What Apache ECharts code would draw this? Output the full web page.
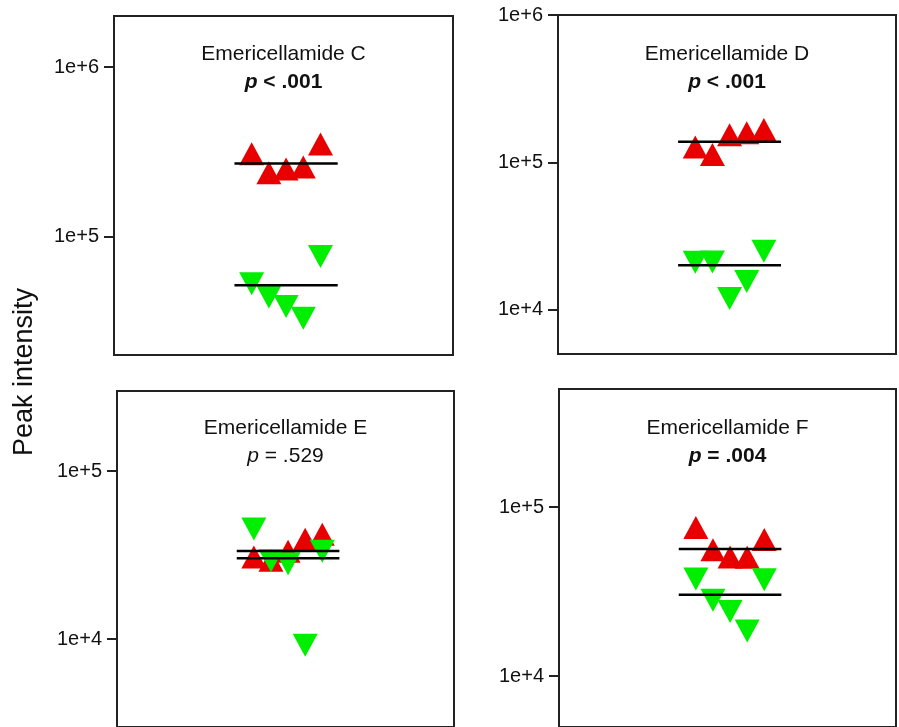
<!doctype html>
<html>
<head>
<meta charset="utf-8">
<style>
  html, body { margin: 0; padding: 0; background: #fff; }
  #main { width: 899px; height: 727px; }
</style>
</head>
<body>
<div id="main"></div>
<script src="https://cdn.jsdelivr.net/npm/echarts@6/dist/echarts.min.js"></script>
<script>
var panelNames = ['Emericellamide C', 'Emericellamide D', 'Emericellamide E', 'Emericellamide F'];
var pTexts = ['< .001', '< .001', '= .529', '= .004'];
var pBold = [true, true, false, true];

// five samples per group, drawn at these x slots
var slots = [1, 2, 3, 4, 5];
var redC = [3.08e5, 2.38e5, 2.50e5, 2.57e5, 3.52e5];
var greenC = [5.27e4, 4.40e4, 3.87e4, 3.30e4, 7.62e4];
var redD = [1.27e5, 1.13e5, 1.54e5, 1.59e5, 1.67e5];
var greenD = [2.10e4, 2.11e4, 1.19e4, 1.55e4, 2.49e4];
var redE = [3.08e4, 2.95e4, 3.34e4, 3.93e4, 4.21e4];
var greenE = [4.53e4, 2.93e4, 2.81e4, 9.2e3, 3.34e4];
var redF = [7.57e4, 5.60e4, 5.07e4, 5.05e4, 6.44e4];
var greenF = [3.75e4, 2.81e4, 2.41e4, 1.85e4, 3.72e4];

// horizontal summary lines
var redLine = [2.70e5, 1.38e5, 3.35e4, 5.65e4];
var greenLine = [5.16e4, 2.0e4, 3.03e4, 3.03e4];

var yMin = [2e4, 5e3, 3e3, 5e3];
var yMax = [2e6, 1e6, 3e5, 5e5];
var tickValues = [1e4, 1e5, 1e6];

var reds = [redC, redD, redE, redF];
var greens = [greenC, greenD, greenE, greenF];

var font = 'Liberation Sans, Arial, sans-serif';
var RED = '#e80000';
var GREEN = '#00ee00';

var gridPos = [
    { left: 114, top: 16, width: 339, height: 339 },
    { left: 558, top: 15, width: 338, height: 339 },
    { left: 117, top: 391, width: 337, height: 340 },
    { left: 559, top: 389, width: 337, height: 352 }
];
var titleTop = [40, 40, 414, 414];

var chart = echarts.init(document.getElementById('main'));

var grids = [], xAxes = [], yAxes = [], titles = [], series = [];
for (var i = 0; i < 4; i++) {
    var g = gridPos[i];
    grids.push({
        left: g.left, top: g.top, width: g.width, height: g.height,
        show: true, borderColor: '#222', borderWidth: 2, containLabel: false
    });
    xAxes.push({ type: 'value', gridIndex: i, min: -7, max: 12.7, show: false });
    var ticks = tickValues.filter(function (v) { return v >= yMin[i] && v <= yMax[i]; });
    yAxes.push({
        type: 'log', logBase: 10, gridIndex: i, min: yMin[i], max: yMax[i],
        axisLine: { show: true, onZero: false, lineStyle: { color: '#222', width: 2 } },
        axisTick: { show: true, length: 10, customValues: ticks, lineStyle: { color: '#222', width: 2 } },
        axisLabel: {
            customValues: ticks, margin: 15, fontSize: 20, color: '#111', fontFamily: font,
            formatter: function (v) { return '1e+' + Math.round(Math.log10(v)); }
        },
        splitLine: { show: false }
    });
    var w = pBold[i] ? 'bold' : 'normal';
    titles.push({
        text: '{t|' + panelNames[i] + '}\n{p|p}{v| ' + pTexts[i] + '}',
        left: g.left + g.width / 2, top: titleTop[i], textAlign: 'center', padding: 0,
        textStyle: {
            fontWeight: 'normal',
            rich: {
                t: { fontSize: 21, fontFamily: font, color: '#111', fontWeight: 'normal', lineHeight: 28 },
                p: { fontSize: 21, fontFamily: font, color: '#111', fontStyle: 'italic', fontWeight: w, lineHeight: 28 },
                v: { fontSize: 21, fontFamily: font, color: '#111', fontWeight: w, lineHeight: 28 }
            }
        }
    });
    series.push({
        type: 'scatter', xAxisIndex: i, yAxisIndex: i,
        symbol: 'triangle', symbolSize: [25, 23],
        itemStyle: { color: RED, opacity: 1 },
        data: slots.map(function (x, j) { return [x, reds[i][j]]; }),
        z: 2
    });
    series.push({
        type: 'scatter', xAxisIndex: i, yAxisIndex: i,
        symbol: 'triangle', symbolSize: [25, 23], symbolRotate: 180,
        itemStyle: { color: GREEN, opacity: 1 },
        data: slots.map(function (x, j) { return [x, greens[i][j]]; }),
        z: 3
    });
    [redLine[i], greenLine[i]].forEach(function (m) {
        series.push({
            type: 'line', xAxisIndex: i, yAxisIndex: i, symbol: 'none',
            lineStyle: { color: '#000', width: 2.5 },
            data: [[0, m], [6, m]],
            z: 4
        });
    });
}

chart.setOption({
    animation: false,
    backgroundColor: '#fff',
    title: titles,
    grid: grids,
    xAxis: xAxes,
    yAxis: yAxes,
    series: series,
    graphic: [{
        type: 'text', x: 25, y: 372, rotation: Math.PI / 2,
        style: {
            text: 'Peak intensity', fontSize: 27, fontFamily: font, fill: '#111',
            align: 'center', verticalAlign: 'middle'
        }
    }]
});

window.onresize = chart.resize;
</script>
</body>
</html>
